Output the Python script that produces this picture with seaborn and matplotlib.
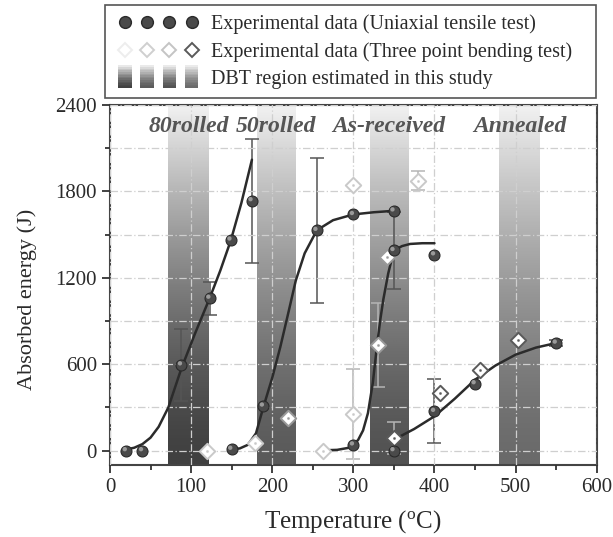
import matplotlib
matplotlib.use("Agg")
import matplotlib.pyplot as plt
import numpy as np
import seaborn as sns
from matplotlib.colors import LinearSegmentedColormap
from matplotlib.legend_handler import HandlerTuple
from matplotlib.lines import Line2D
from matplotlib.markers import MarkerStyle
from matplotlib.patches import Rectangle
from matplotlib.transforms import Affine2D

# DBT regions estimated in this study (temperature ranges, deg C)
band_names = ["80rolled", "50rolled", "As-received", "Annealed"]
band_lo = [72, 181, 320, 480]
band_hi = [122, 229, 367, 530]

# Uniaxial tensile test (spheres) -- T, energy, error
t80_T = [20, 40, 88, 123, 149, 175]
t80_E = [0, 0, 596, 1059, 1463, 1736]
t80_err = [0, 0, 250, 115, 0, 430]

t50_T = [150, 189, 255, 300, 350]
t50_E = [10, 310, 1530, 1640, 1665]
t50_err = [0, 0, 505, 0, 0]

tar_T = [300, 350, 400]
tar_E = [40, 1390, 1360]
tar_err = [0, 265, 0]

tan_T = [350, 400, 450, 550]
tan_E = [0, 273, 465, 747]
tan_err = [0, 222, 0, 20]

# Three point bending test (diamonds), grouped by symbol shade
bl_T = [119, 179, 262, 300, 300, 380]
bl_E = [0, 53, 0, 254, 1845, 1875]
bl_err = [0, 0, 0, 310, 0, 65]

bm_T = [220, 330, 341]
bm_E = [227, 735, 1347]
bm_err = [0, 290, 0]

bd_T = [350, 407, 456, 503]
bd_E = [88, 400, 557, 770]
bd_err = [110, 0, 0, 0]

# Fitted curves
c80_T = [18, 30, 40, 50, 60, 72, 88, 105, 123, 136, 149, 162, 175]
c80_E = [5, 20, 45, 90, 165, 300, 570, 815, 1060, 1250, 1460, 1720, 2020]

c50_T = [150, 160, 170, 180, 189, 200, 210, 220, 229, 240, 255, 275, 300, 325, 350]
c50_E = [10, 15, 40, 120, 300, 505, 720, 960, 1180, 1370, 1530, 1600, 1640, 1655, 1665]

car_T = [263, 280, 295, 300, 306, 312, 318, 324, 329, 333, 337, 343, 350, 360, 370, 385, 400]
car_E = [2, 5, 20, 37, 75, 140, 260, 470, 720, 900, 1050, 1230, 1390, 1420, 1435, 1440, 1440]

can_T = [350, 375, 400, 425, 450, 475, 500, 525, 550]
can_E = [76, 150, 238, 360, 492, 590, 666, 715, 747]

band_dark = ["#404040", "#5a5a5a", "#525252", "#6a6a6a"]
band_top = "#f2f2f2"
diamond_cols = {"light": "#c9c9c9", "medium": "#9a9a9a", "dark": "#5a5a5a"}
sphere_face = "#4a4a4a"
sphere_edge = "#2a2a2a"
curve_col = "#2b2b2b"

sns.set_theme(style="ticks")
plt.rcParams["font.family"] = ["Liberation Serif", "DejaVu Serif"]
plt.rcParams["mathtext.fontset"] = "custom"
plt.rcParams["mathtext.rm"] = "Liberation Serif"

fig = plt.figure(figsize=(6.13, 5.37), dpi=100)
ax = fig.add_axes([0.1794, 0.1341, 0.7940, 0.6704])

# gradient DBT bands
ramp = (np.linspace(0, 1, 256) ** 1.5).reshape(-1, 1)
for lo, hi, dark in zip(band_lo, band_hi, band_dark):
    cmap = LinearSegmentedColormap.from_list("band", [dark, band_top])
    ax.imshow(ramp, extent=[lo, hi, -100, 2400], origin="lower", aspect="auto",
              cmap=cmap, zorder=0.2, interpolation="bilinear")

for lo, hi, name in zip(band_lo, band_hi, band_names):
    ax.text((lo + hi) / 2, 2250, name, ha="center", va="center", fontsize=17,
            fontweight="bold", fontstyle="italic", color="#555555", zorder=6)

# fitted curves
for cx, cy in [(c80_T, c80_E), (c50_T, c50_E), (car_T, car_E), (can_T, can_E)]:
    sns.lineplot(x=cx, y=cy, color=curve_col, lw=1.8, sort=False, estimator=None,
                 ax=ax, zorder=3)

# error bars
def errs(xs, ys, es, col, z):
    xx = [x for x, e in zip(xs, es) if e > 0]
    yy = [y for y, e in zip(ys, es) if e > 0]
    ee = [e for e in es if e > 0]
    if xx:
        ax.errorbar(xx, yy, yerr=ee, fmt="none", ecolor=col, elinewidth=1.1,
                    capsize=5, capthick=1.1, zorder=z)

for xs, ys, es in [(t80_T, t80_E, t80_err), (t50_T, t50_E, t50_err),
                   (tar_T, tar_E, tar_err), (tan_T, tan_E, tan_err)]:
    errs(xs, ys, es, "#555555", 2.5)
for xs, ys, es in [(bl_T, bl_E, bl_err), (bm_T, bm_E, bm_err), (bd_T, bd_E, bd_err)]:
    errs(xs, ys, es, "#b5b5b5", 2.4)

# bending diamonds
for xs, ys, key in [(bl_T, bl_E, "light"), (bm_T, bm_E, "medium"), (bd_T, bd_E, "dark")]:
    c = diamond_cols[key]
    sns.scatterplot(x=xs, y=ys, marker="D", s=62, color="white", edgecolor=c,
                    linewidth=1.4, ax=ax, zorder=5)
    sns.scatterplot(x=xs, y=ys, marker="o", s=3, color=c, edgecolor=c, ax=ax, zorder=5.1)

# tensile spheres
hl = MarkerStyle("o", transform=Affine2D().scale(0.4).translate(-0.13, 0.13))
for xs, ys in [(t80_T, t80_E), (t50_T, t50_E), (tar_T, tar_E), (tan_T, tan_E)]:
    sns.scatterplot(x=xs, y=ys, marker="o", s=62, color=sphere_face,
                    edgecolor=sphere_edge, linewidth=0.8, ax=ax, zorder=6)
    sns.scatterplot(x=xs, y=ys, marker=hl, s=62, color="#9a9a9a", edgecolor="none",
                    linewidth=0, ax=ax, zorder=6.1)

ax.set_xlim(0, 600)
ax.set_ylim(-100, 2400)
ax.set_xticks(range(0, 601, 100))
ax.set_xticks(range(50, 600, 100), minor=True)
ax.set_yticks(range(0, 2401, 600))
ax.set_yticks(range(300, 2400, 600), minor=True)
ax.grid(True, which="major", color="#cfcfcf", lw=0.9, linestyle=(0, (6, 2, 1, 2)))
ax.grid(True, which="minor", axis="y", color="#cfcfcf", lw=0.9, linestyle=(0, (6, 2, 1, 2)))
ax.set_axisbelow(False)
for gl in ax.get_xgridlines() + ax.get_ygridlines():
    gl.set_zorder(1)

ax.tick_params(which="major", direction="out", length=6, width=1.3, color="#333333",
               labelsize=15, labelcolor="#2a2a2a", top=False, right=False)
ax.tick_params(which="minor", direction="out", length=3.5, width=1.3, color="#333333",
               top=False, right=False)
for sp in ax.spines.values():
    sp.set_visible(True)
    sp.set_linewidth(1.5)
    sp.set_color("#444444")

ax.set_xlabel(r"Temperature ($\mathrm{^{o}}$C)", fontsize=18, color="#2a2a2a", labelpad=8)
ax.set_ylabel("Absorbed energy (J)", fontsize=16, color="#2a2a2a")
ax.yaxis.set_label_coords(-0.15, 0.46)


# legend
class GradientBars:
    def legend_artist(self, legend, orig_handle, fontsize, handlebox):
        x0, y0 = handlebox.xdescent, handlebox.ydescent
        w, h = handlebox.width, handlebox.height
        n = len(band_dark)
        slot = w / n
        bw = slot * 0.62
        bh = 16.0
        ybot = y0 + h / 2 - bh / 2
        nstrip = 14
        arts = []
        for i, dark in enumerate(band_dark):
            cmap = LinearSegmentedColormap.from_list("b", [dark, band_top])
            xl = x0 + slot * i + (slot - bw) / 2
            for k in range(nstrip):
                r = Rectangle((xl, ybot + bh * k / nstrip), bw, bh / nstrip + 0.3,
                              facecolor=cmap(((k + 0.5) / nstrip) ** 1.5), edgecolor="none",
                              transform=handlebox.get_transform())
                handlebox.add_artist(r)
                arts.append(r)
        return arts[0]


sph_h = tuple(Line2D([], [], ls="", marker="o", ms=8.5, mfc=sphere_face, mec=sphere_edge)
              for _ in range(4))
dia_h = tuple(Line2D([], [], ls="", marker="D", ms=7.5, mfc="white", mec=c, mew=1.4)
              for c in ["#ededed", "#cfcfcf", "#c4c4c4", "#5a5a5a"])
bar_h = Rectangle((0, 0), 1, 1)

leg = fig.legend([sph_h, dia_h, bar_h],
                 ["Experimental data (Uniaxial tensile test)",
                  "Experimental data (Three point bending test)",
                  "DBT region estimated in this study"],
                 handler_map={tuple: HandlerTuple(ndivide=None, pad=0),
                              Rectangle: GradientBars()},
                 loc="upper left", bbox_to_anchor=(105 / 613, 0.8225, 491 / 613, 0.168),
                 mode="expand", borderaxespad=0, fontsize=14.5, handlelength=4.4,
                 handletextpad=0.4, labelspacing=0.4, borderpad=0.45,
                 frameon=True, fancybox=False, framealpha=1)
leg.get_frame().set_edgecolor("#555555")
leg.get_frame().set_linewidth(1.2)
for t in leg.get_texts():
    t.set_color("#2a2a2a")

fig.savefig("out.png", dpi=100)
